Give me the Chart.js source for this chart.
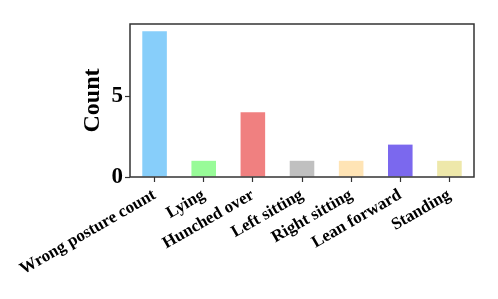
<!DOCTYPE html>
<html>
<head>
<meta charset="utf-8">
<script src="https://cdn.jsdelivr.net/npm/chart.js@4.4.1/dist/chart.umd.min.js"></script>
<style>
  html, body { margin: 0; padding: 0; background: #fff; }
  #wrap { width: 498px; height: 299px; position: relative; }
</style>
</head>
<body>
<div id="wrap"><canvas id="postureChart"></canvas></div>
<script>
// --- Data ---
const categories = ['Wrong posture count', 'Lying', 'Hunched over', 'Left sitting',
                    'Right sitting', 'Lean forward', 'Standing'];
const counts = [9, 1, 4, 1, 1, 2, 1];
const barColors = ['#87cefa', '#98fb98', '#f08080', '#c0c0c0', '#ffe4b5', '#7b68ee', '#eee8aa'];
const yTicks = [0, 5];

const serif = '"Liberation Serif", "Times New Roman", serif';

// draw the full box around the plot area
const framePlugin = {
    id: 'frame',
    afterDraw(chart) {
        const a = chart.chartArea;
        const ctx = chart.ctx;
        ctx.save();
        ctx.strokeStyle = '#333';
        ctx.lineWidth = 1.5;
        ctx.strokeRect(a.left, a.top, a.right - a.left, a.bottom - a.top);
        ctx.restore();
    }
};

new Chart(document.getElementById('postureChart'), {
    type: 'bar',
    data: {
        labels: categories,
        datasets: [{
            data: counts,
            backgroundColor: barColors,
            barPercentage: 0.5,
            categoryPercentage: 1.0,
        }]
    },
    options: {
        responsive: true,
        maintainAspectRatio: false,
        animation: false,
        layout: { padding: { top: 24, right: 24, left: 78, bottom: 0 } },
        plugins: { legend: { display: false }, tooltip: { enabled: false } },
        scales: {
            x: {
                grid: { display: true, drawOnChartArea: false, offset: false, tickLength: 5, color: '#333', tickWidth: 1.2 },
                border: { display: false },
                ticks: {
                    color: '#000',
                    font: { family: serif, size: 17, weight: 'bold' },
                    minRotation: 30,
                    maxRotation: 30,
                    padding: 3,
                },
                afterFit: (axis) => { axis.height = 299 - 177; }
            },
            y: {
                min: 0,
                max: 9.45,
                afterBuildTicks: (axis) => { axis.ticks = yTicks.map(v => ({ value: v })); },
                grid: { display: true, drawOnChartArea: false, tickLength: 5, color: '#333', tickWidth: 1.2 },
                border: { display: false },
                ticks: {
                    color: '#000',
                    font: { family: serif, size: 23, weight: 'bold' },
                    padding: 2,
                },
                title: {
                    display: true,
                    text: 'Count',
                    color: '#000',
                    font: { family: serif, size: 24, weight: 'bold' },
                    padding: { top: 0, bottom: 0 }
                },
                afterFit: (axis) => { axis.width = 130 - 78; }
            }
        }
    },
    plugins: [framePlugin]
});
</script>
</body>
</html>
